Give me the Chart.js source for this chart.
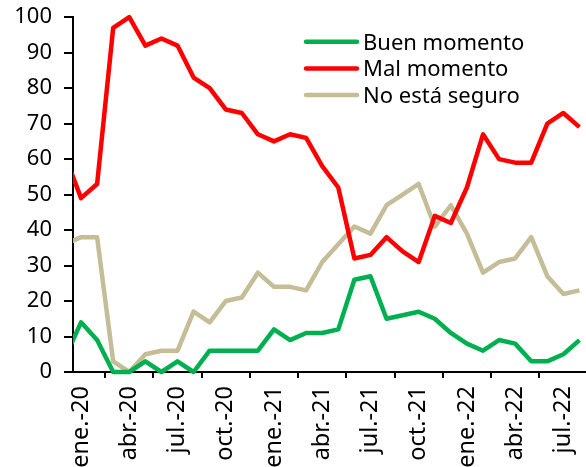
<!DOCTYPE html>
<html>
<head>
<meta charset="utf-8">
<script src="https://cdn.jsdelivr.net/npm/chart.js@4/dist/chart.umd.min.js"></script>
<style>
  html, body { margin:0; padding:0; background:#fff; overflow:hidden; }
  #chart { display:block; margin-top:-8px; }
</style>
</head>
<body>
<canvas id="chart" width="600" height="475"></canvas>
<script>
// meses (dic.-19 queda fuera del eje, solo se ve el tramo que entra)
const months = [
  'dic.-19',
  'ene.-20','feb.-20','mar.-20','abr.-20','may.-20','jun.-20','jul.-20','ago.-20','sep.-20','oct.-20','nov.-20','dic.-20',
  'ene.-21','feb.-21','mar.-21','abr.-21','may.-21','jun.-21','jul.-21','ago.-21','sep.-21','oct.-21','nov.-21','dic.-21',
  'ene.-22','feb.-22','mar.-22','abr.-22','may.-22','jun.-22','jul.-22','ago.-22'
];
const buenMomento = [4, 14,9,0,0,3,0,3,0, 6,6,6,6,12,9,11,11, 12,26,27,15,16,17,15,11, 8,6,9,8,3,3,5,9];
const malMomento  = [61, 49,53,97,100,92,94,92,83, 80,74,73,67,65,67,66,58, 52,32,33,38,34,31,44,42, 52,67,60,59,59,70,73,69];
const noSeguro    = [36, 38,38,3,0,5,6,6,17, 14,20,21,28,24,24,23,31, 36,41,39,47,50,53,41,47, 39,28,31,32,38,27,22,23];
const seriesNames = ['Buen momento','Mal momento','No está seguro'];
const seriesColors = ['#00B050','#FF0000','#C4BD97'];

const FONT = 'Noto Sans';

function line(label, data, color){
  return {
    label, data,
    borderColor: color, backgroundColor: color,
    borderWidth: 4.5, pointRadius: 0, tension: 0,
    borderJoinStyle: 'round',
    clip: {left:0, top:false, right:false, bottom:false}
  };
}

// leyenda dentro del área, arriba a la derecha (canvas desplazado 8px hacia arriba)
const sideLegend = {
  id: 'sideLegend',
  afterDatasetsDraw(chart){
    const c = chart.ctx;
    c.save();
    c.font = `22px "${FONT}"`;
    c.textBaseline = 'alphabetic';
    c.textAlign = 'left';
    chart.data.datasets.forEach((ds, i) => {
      const y = 49.7 + i*26.7;
      c.strokeStyle = ds.borderColor;
      c.lineWidth = 4.5;
      c.lineCap = 'round';
      c.beginPath(); c.moveTo(306, y); c.lineTo(357, y); c.stroke();
      c.fillStyle = '#000';
      c.fillText(ds.label, 363, y + 8);
    });
    c.restore();
  }
};

const ctx = document.getElementById('chart').getContext('2d');
new Chart(ctx, {
  type: 'line',
  data: {
    labels: months,
    datasets: [
      line(seriesNames[0], buenMomento, seriesColors[0]),
      line(seriesNames[1], malMomento, seriesColors[1]),
      line(seriesNames[2], noSeguro, seriesColors[2])
    ]
  },
  options: {
    responsive: false,
    devicePixelRatio: 1,
    animation: false,
    layout: { padding: { top:8, right:9, left:0, bottom:0 } },
    plugins: { legend: { display:false }, tooltip: { enabled:false } },
    scales: {
      x: {
        type: 'category',
        min: 'ene.-20',
        offset: true,
        grid: { offset:true, drawOnChartArea:false, tickLength:6, color:'#000', lineWidth:2 },
        border: { color:'#000', width:2 },
        ticks: {
          autoSkip: false, minRotation: 90, maxRotation: 90, padding: 8,
          color: '#000', font: { family: FONT, size: 23.5 },
          callback: (v) => (v >= 1 && (v-1) % 3 === 0) ? months[v] : null
        },
        afterFit: (s) => { s.height = 95; }
      },
      y: {
        min: 0, max: 100,
        grid: { drawOnChartArea:false, tickLength:9, color:'#000', lineWidth:2 },
        border: { color:'#000', width:2 },
        ticks: { stepSize:10, padding:12, color:'#000', font: { family: FONT, size: 22 } },
        afterFit: (s) => { s.width = 73; }
      }
    }
  },
  plugins: [sideLegend]
});
</script>
</body>
</html>
